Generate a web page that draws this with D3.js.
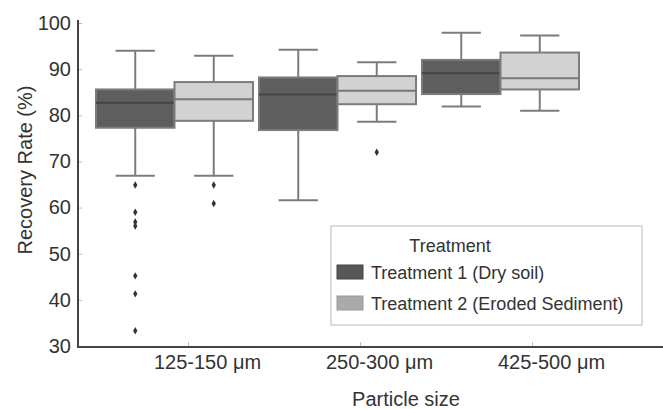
<!DOCTYPE html>
<html>
<head>
<meta charset="utf-8">
<script src="https://cdn.jsdelivr.net/npm/d3@7"></script>
<style>
  html, body { margin: 0; padding: 0; background: #fff; }
  svg { display: block; font-family: "Liberation Sans", Arial, sans-serif; }
</style>
</head>
<body>
<svg id="chart" width="663" height="409"></svg>
<script>
// ---- data ----
const categories = ["125-150 μm", "250-300 μm", "425-500 μm"];
const treatments = ["Treatment 1 (Dry soil)", "Treatment 2 (Eroded Sediment)"];
const yTicks = [30, 40, 50, 60, 70, 80, 90, 100];

// per category: [T1, T2]
const whiskerLow  = [[66.9, 66.9], [61.6, 78.6], [81.9, 81.0]];
const q1          = [[77.3, 78.8], [76.8, 82.4], [84.6, 85.6]];
const median      = [[82.7, 83.5], [84.5, 85.3], [89.1, 88.0]];
const q3          = [[85.6, 87.2], [88.2, 88.5], [92.0, 93.6]];
const whiskerHigh = [[94.0, 92.9], [94.2, 91.5], [97.9, 97.3]];
const outliers    = [
  [[64.9, 59.0, 56.9, 56.0, 45.2, 41.3, 33.3], [64.9, 60.9]],
  [[], [72.0]],
  [[], []]
];

const fills = ["#5e5e5e", "#d2d2d2"];
const medianColors = ["#454545", "#777777"];
const legendFills = ["#575757", "#aaaaaa"];

// ---- build records ----
const boxes = [];
categories.forEach((c, i) => {
  treatments.forEach((t, j) => {
    boxes.push({
      cat: c, trt: t, ti: j,
      lo: whiskerLow[i][j], q1: q1[i][j], med: median[i][j],
      q3: q3[i][j], hi: whiskerHigh[i][j], out: outliers[i][j]
    });
  });
});

const W = 663, H = 409;
const svg = d3.select("#chart");

const y = d3.scaleLinear().domain([30, 100]).range([346, 23]);
const xGroup = d3.scaleBand().domain(categories).range([94, 583]).padding(0);
const xSub = d3.scaleBand().domain(treatments).range([2, xGroup.bandwidth() - 4]).padding(0);
const xTick = d3.scalePoint().domain(categories).range([188, 532]);

const edge = "#7c7c7c";

// ---- boxes ----
const g = svg.append("g");
const bw = xSub.bandwidth();
boxes.forEach(b => {
  const x0 = xGroup(b.cat) + xSub(b.trt);
  const cx = x0 + bw / 2;
  const gg = g.append("g");
  // whiskers
  gg.append("line").attr("x1", cx).attr("x2", cx).attr("y1", y(b.hi)).attr("y2", y(b.q3))
    .attr("stroke", edge).attr("stroke-width", 2);
  gg.append("line").attr("x1", cx).attr("x2", cx).attr("y1", y(b.q1)).attr("y2", y(b.lo))
    .attr("stroke", edge).attr("stroke-width", 2);
  gg.append("line").attr("x1", cx - bw / 4).attr("x2", cx + bw / 4).attr("y1", y(b.hi)).attr("y2", y(b.hi))
    .attr("stroke", edge).attr("stroke-width", 2);
  gg.append("line").attr("x1", cx - bw / 4).attr("x2", cx + bw / 4).attr("y1", y(b.lo)).attr("y2", y(b.lo))
    .attr("stroke", edge).attr("stroke-width", 2);
  // box
  gg.append("rect").attr("x", x0).attr("y", y(b.q3)).attr("width", bw).attr("height", y(b.q1) - y(b.q3))
    .attr("fill", fills[b.ti]).attr("stroke", edge).attr("stroke-width", 2);
  // median
  gg.append("line").attr("x1", x0).attr("x2", x0 + bw).attr("y1", y(b.med)).attr("y2", y(b.med))
    .attr("stroke", medianColors[b.ti]).attr("stroke-width", 2);
  // outliers
  gg.selectAll("path.out").data(b.out).enter().append("path")
    .attr("class", "out")
    .attr("d", d3.symbol().type(d3.symbolDiamond).size(16))
    .attr("transform", d => `translate(${cx},${y(d)})`)
    .attr("fill", "#333");
});

// ---- axes ----
const yAxis = d3.axisLeft(y).tickValues(yTicks).tickSize(-4).tickPadding(7).tickSizeOuter(0);
const yg = svg.append("g").attr("transform", "translate(78,0)").call(yAxis);
yg.select(".domain").remove();
yg.selectAll(".tick line").attr("stroke", "#bbb");
yg.selectAll(".tick text").attr("font-size", 20).attr("fill", "#333")
  .attr("font-family", "Liberation Sans, Arial, sans-serif");

const xAxis = d3.axisBottom(xTick).tickSize(-5).tickPadding(8).tickSizeOuter(0);
const xg = svg.append("g").attr("transform", "translate(0,347)").call(xAxis);
xg.select(".domain").remove();
xg.selectAll(".tick line").attr("stroke", "#bbb");
xg.selectAll(".tick text").attr("font-size", 20).attr("fill", "#333").attr("dx", 19)
  .attr("font-family", "Liberation Sans, Arial, sans-serif");

// spines
svg.append("line").attr("x1", 78).attr("x2", 78).attr("y1", 20).attr("y2", 348)
  .attr("stroke", "#444").attr("stroke-width", 2);
svg.append("line").attr("x1", 77).attr("x2", W).attr("y1", 347).attr("y2", 347)
  .attr("stroke", "#444").attr("stroke-width", 2);

// axis titles
svg.append("text").attr("x", 406).attr("y", 406).attr("text-anchor", "middle")
  .attr("font-size", 20).attr("fill", "#333").text("Particle size");
svg.append("text").attr("transform", "translate(32,170) rotate(-90)").attr("text-anchor", "middle")
  .attr("font-size", 20).attr("fill", "#333").text("Recovery Rate (%)");

// ---- legend ----
const lg = svg.append("g");
lg.append("rect").attr("x", 331).attr("y", 226).attr("width", 311).attr("height", 99)
  .attr("fill", "#fff").attr("stroke", "#cfcfcf").attr("stroke-width", 1.5);
lg.append("text").attr("x", 450).attr("y", 252).attr("text-anchor", "middle")
  .attr("font-size", 18).attr("fill", "#333").text("Treatment");
treatments.forEach((t, j) => {
  const yy = 265 + j * 31;
  lg.append("rect").attr("x", 337).attr("y", yy).attr("width", 26).attr("height", 14)
    .attr("fill", legendFills[j]).attr("stroke", j === 0 ? "#444" : "#999").attr("stroke-width", 1);
  lg.append("text").attr("x", 371).attr("y", yy + 14).attr("font-size", 18).attr("fill", "#333").text(t);
});
</script>
</body>
</html>
